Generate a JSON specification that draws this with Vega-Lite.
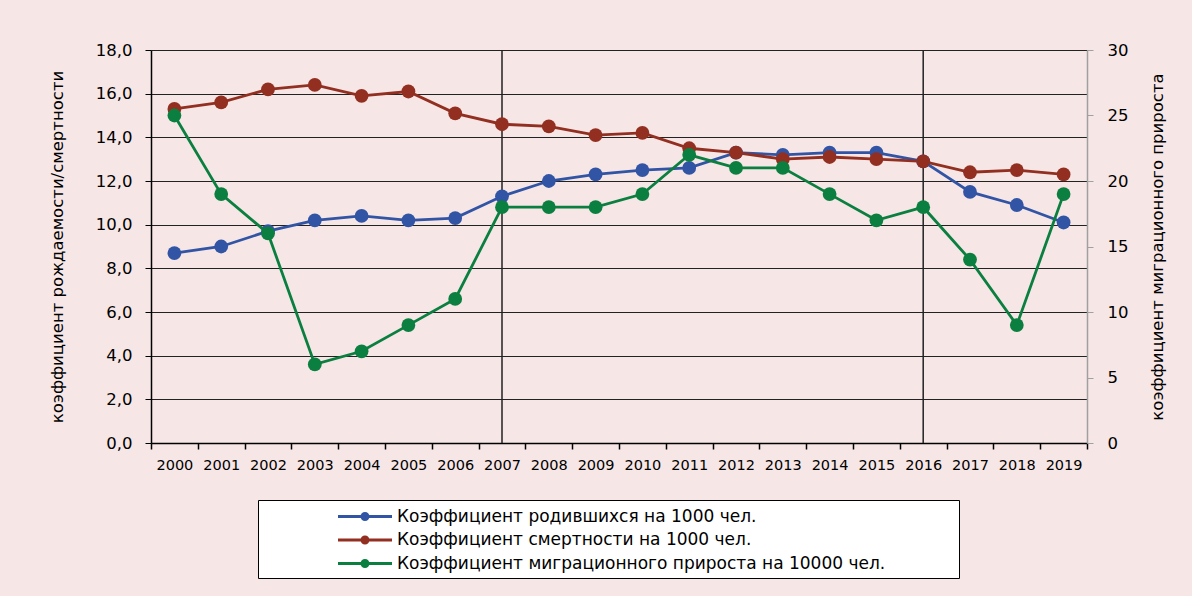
{
  "$schema": "https://vega.github.io/schema/vega-lite/v6.json",
  "width": 936,
  "height": 393,
  "autosize": {"type": "none"},
  "padding": {"left": 151, "top": 50, "right": 105, "bottom": 153},
  "background": "#F6E6E6",
  "config": {
    "view": {"stroke": null},
    "font": "DejaVu Sans",
    "axis": {"labelFont": "DejaVu Sans", "titleFont": "DejaVu Sans", "labelColor": "#000", "titleColor": "#000", "titleFontWeight": "normal"}
  },
  "datasets": {
    "main": [
      {"year": 2000, "series": "Коэффициент родившихся на 1000 чел.", "value": 8.7},
      {"year": 2001, "series": "Коэффициент родившихся на 1000 чел.", "value": 9.0},
      {"year": 2002, "series": "Коэффициент родившихся на 1000 чел.", "value": 9.7},
      {"year": 2003, "series": "Коэффициент родившихся на 1000 чел.", "value": 10.2},
      {"year": 2004, "series": "Коэффициент родившихся на 1000 чел.", "value": 10.4},
      {"year": 2005, "series": "Коэффициент родившихся на 1000 чел.", "value": 10.2},
      {"year": 2006, "series": "Коэффициент родившихся на 1000 чел.", "value": 10.3},
      {"year": 2007, "series": "Коэффициент родившихся на 1000 чел.", "value": 11.3},
      {"year": 2008, "series": "Коэффициент родившихся на 1000 чел.", "value": 12.0},
      {"year": 2009, "series": "Коэффициент родившихся на 1000 чел.", "value": 12.3},
      {"year": 2010, "series": "Коэффициент родившихся на 1000 чел.", "value": 12.5},
      {"year": 2011, "series": "Коэффициент родившихся на 1000 чел.", "value": 12.6},
      {"year": 2012, "series": "Коэффициент родившихся на 1000 чел.", "value": 13.3},
      {"year": 2013, "series": "Коэффициент родившихся на 1000 чел.", "value": 13.2},
      {"year": 2014, "series": "Коэффициент родившихся на 1000 чел.", "value": 13.3},
      {"year": 2015, "series": "Коэффициент родившихся на 1000 чел.", "value": 13.3},
      {"year": 2016, "series": "Коэффициент родившихся на 1000 чел.", "value": 12.9},
      {"year": 2017, "series": "Коэффициент родившихся на 1000 чел.", "value": 11.5},
      {"year": 2018, "series": "Коэффициент родившихся на 1000 чел.", "value": 10.9},
      {"year": 2019, "series": "Коэффициент родившихся на 1000 чел.", "value": 10.1},
      {"year": 2000, "series": "Коэффициент смертности на 1000 чел.", "value": 15.3},
      {"year": 2001, "series": "Коэффициент смертности на 1000 чел.", "value": 15.6},
      {"year": 2002, "series": "Коэффициент смертности на 1000 чел.", "value": 16.2},
      {"year": 2003, "series": "Коэффициент смертности на 1000 чел.", "value": 16.4},
      {"year": 2004, "series": "Коэффициент смертности на 1000 чел.", "value": 15.9},
      {"year": 2005, "series": "Коэффициент смертности на 1000 чел.", "value": 16.1},
      {"year": 2006, "series": "Коэффициент смертности на 1000 чел.", "value": 15.1},
      {"year": 2007, "series": "Коэффициент смертности на 1000 чел.", "value": 14.6},
      {"year": 2008, "series": "Коэффициент смертности на 1000 чел.", "value": 14.5},
      {"year": 2009, "series": "Коэффициент смертности на 1000 чел.", "value": 14.1},
      {"year": 2010, "series": "Коэффициент смертности на 1000 чел.", "value": 14.2},
      {"year": 2011, "series": "Коэффициент смертности на 1000 чел.", "value": 13.5},
      {"year": 2012, "series": "Коэффициент смертности на 1000 чел.", "value": 13.3},
      {"year": 2013, "series": "Коэффициент смертности на 1000 чел.", "value": 13.0},
      {"year": 2014, "series": "Коэффициент смертности на 1000 чел.", "value": 13.1},
      {"year": 2015, "series": "Коэффициент смертности на 1000 чел.", "value": 13.0},
      {"year": 2016, "series": "Коэффициент смертности на 1000 чел.", "value": 12.9},
      {"year": 2017, "series": "Коэффициент смертности на 1000 чел.", "value": 12.4},
      {"year": 2018, "series": "Коэффициент смертности на 1000 чел.", "value": 12.5},
      {"year": 2019, "series": "Коэффициент смертности на 1000 чел.", "value": 12.3},
      {"year": 2000, "series": "Коэффициент миграционного прироста на 10000 чел.", "value": 25},
      {"year": 2001, "series": "Коэффициент миграционного прироста на 10000 чел.", "value": 19},
      {"year": 2002, "series": "Коэффициент миграционного прироста на 10000 чел.", "value": 16},
      {"year": 2003, "series": "Коэффициент миграционного прироста на 10000 чел.", "value": 6},
      {"year": 2004, "series": "Коэффициент миграционного прироста на 10000 чел.", "value": 7},
      {"year": 2005, "series": "Коэффициент миграционного прироста на 10000 чел.", "value": 9},
      {"year": 2006, "series": "Коэффициент миграционного прироста на 10000 чел.", "value": 11},
      {"year": 2007, "series": "Коэффициент миграционного прироста на 10000 чел.", "value": 18},
      {"year": 2008, "series": "Коэффициент миграционного прироста на 10000 чел.", "value": 18},
      {"year": 2009, "series": "Коэффициент миграционного прироста на 10000 чел.", "value": 18},
      {"year": 2010, "series": "Коэффициент миграционного прироста на 10000 чел.", "value": 19},
      {"year": 2011, "series": "Коэффициент миграционного прироста на 10000 чел.", "value": 22},
      {"year": 2012, "series": "Коэффициент миграционного прироста на 10000 чел.", "value": 21},
      {"year": 2013, "series": "Коэффициент миграционного прироста на 10000 чел.", "value": 21},
      {"year": 2014, "series": "Коэффициент миграционного прироста на 10000 чел.", "value": 19},
      {"year": 2015, "series": "Коэффициент миграционного прироста на 10000 чел.", "value": 17},
      {"year": 2016, "series": "Коэффициент миграционного прироста на 10000 чел.", "value": 18},
      {"year": 2017, "series": "Коэффициент миграционного прироста на 10000 чел.", "value": 14},
      {"year": 2018, "series": "Коэффициент миграционного прироста на 10000 чел.", "value": 9},
      {"year": 2019, "series": "Коэффициент миграционного прироста на 10000 чел.", "value": 19}
    ],
    "marks": [{"year": 2007}, {"year": 2016}]
  },
  "layer": [
    {
      "data": {"name": "marks"},
      "mark": {"type": "rule", "color": "#222", "strokeWidth": 1.5},
      "encoding": {
        "x": {"field": "year", "type": "ordinal", "bandPosition": 0.5,
          "scale": {"type": "band", "paddingInner": 0, "paddingOuter": 0},
          "axis": {"orient": "bottom", "title": null, "labelAngle": 0, "tickBand": "extent", "domainColor": "#000", "domainWidth": 1.5, "tickColor": "#000", "tickWidth": 1.5, "tickSize": 6, "labelFontSize": 14.5, "labelPadding": 9, "grid": false}}
      }
    },
    {
      "data": {"name": "main"},
      "transform": [{"filter": "datum.series !== 'Коэффициент миграционного прироста на 10000 чел.'"}],
      "encoding": {
        "x": {"field": "year", "type": "ordinal", "bandPosition": 0.5},
        "y": {"field": "value", "type": "quantitative",
          "scale": {"domain": [0, 18], "nice": false, "zero": true},
          "axis": {"orient": "left", "title": "коэффициент рождаемости/смертности", "values": [0, 2, 4, 6, 8, 10, 12, 14, 16, 18], "labelExpr": "replace(format(datum.value, '.1f'), '.', ',')", "grid": true, "gridColor": "#222", "gridWidth": 1, "domainColor": "#000", "domainWidth": 1.5, "tickColor": "#000", "tickSize": 6, "labelFontSize": 16.5, "labelPadding": 13, "titleFontSize": 16.5, "titlePadding": 30}},
        "color": {"field": "series", "type": "nominal",
          "scale": {"domain": ["Коэффициент родившихся на 1000 чел.", "Коэффициент смертности на 1000 чел.", "Коэффициент миграционного прироста на 10000 чел."], "range": ["#3154A5", "#922F20", "#0A7F3F"]},
          "legend": {"orient": "none", "legendX": 107, "legendY": 450, "title": " ", "titleOrient": "right", "titlePadding": 67, "titleFontSize": 10, "direction": "vertical", "fillColor": "#FFFFFF", "strokeColor": "#000", "padding": 6.5, "symbolType": "M -2.7 -0.15 H 2.7 V 0.15 H -2.7 Z M 0.45 0 A 0.45 0.45 0 1 1 -0.45 0 A 0.45 0.45 0 1 1 0.45 0 Z", "symbolSize": 400, "symbolOffset": 90.5, "symbolStrokeWidth": 0, "symbolOpacity": 1, "labelFontSize": 17, "labelOffset": 22, "rowPadding": 5.5, "labelColor": "#000", "labelFont": "DejaVu Sans", "labelLimit": 700}}
      },
      "layer": [
        {"mark": {"type": "line", "strokeWidth": 2.8}},
        {"mark": {"type": "point", "filled": true, "opacity": 1, "size": 190, "shape": "circle"}}
      ]
    },
    {
      "data": {"name": "main"},
      "transform": [{"filter": "datum.series === 'Коэффициент миграционного прироста на 10000 чел.'"}],
      "encoding": {
        "x": {"field": "year", "type": "ordinal", "bandPosition": 0.5},
        "y": {"field": "value", "type": "quantitative",
          "scale": {"domain": [0, 30], "nice": false, "zero": true},
          "axis": {"orient": "right", "title": "коэффициент миграционного прироста", "values": [0, 5, 10, 15, 20, 25, 30], "grid": false, "domainColor": "#A0A0A0", "domainWidth": 1.5, "tickColor": "#A0A0A0", "tickSize": 6, "labelFontSize": 16.5, "labelPadding": 14, "titleFontSize": 16.5, "titlePadding": 38, "titleAngle": 270}},
        "color": {"field": "series", "type": "nominal"}
      },
      "layer": [
        {"mark": {"type": "line", "strokeWidth": 2.8}},
        {"mark": {"type": "point", "filled": true, "opacity": 1, "size": 190, "shape": "circle"}}
      ]
    }
  ],
  "resolve": {"scale": {"y": "independent"}, "axis": {"y": "independent"}}
}
